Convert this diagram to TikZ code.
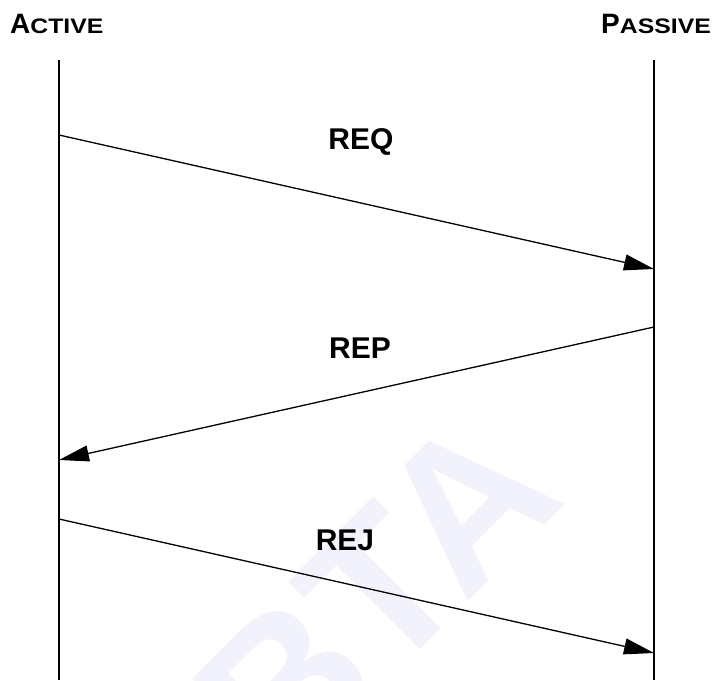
\documentclass[tikz,border=0pt]{standalone}
\usepackage{fontspec}
\setmainfont{Liberation Sans}
\usetikzlibrary{arrows.meta}

\definecolor{wmark}{RGB}{242,242,253}
\newcommand{\headsc}[2]{{\fontsize{28}{28}\selectfont #1}\scalebox{1.18}[1]{\fontsize{21}{21}\selectfont #2}}

\tikzset{
  lifeline/.style={line width=2pt},
  msg/.style={line width=1.3pt, -{Triangle[length=30pt,width=16pt]}},
  msglabel/.style={font=\bfseries\fontsize{30}{30}\selectfont, inner sep=0pt},
  header/.style={font=\bfseries, inner sep=0pt}
}

\begin{document}
\begin{tikzpicture}[x=1pt,y=-1pt]
    \useasboundingbox (0,0) rectangle (712,680);
    % watermark
    \node[wmark, rotate=45, inner sep=0pt, font=\bfseries\fontsize{205}{205}\selectfont] (wm) at (376,595) {BTA};
    % headers
    \node[header, anchor=base west] (active) at (10,33) {\headsc{A}{CTIVE}};
    \node[header, anchor=base east] (passive) at (711,33) {\headsc{P}{ASSIVE}};
    % lifelines
    \coordinate (act top) at (59,60);
    \coordinate (act bot) at (59,680);
    \coordinate (pas top) at (654,60);
    \coordinate (pas bot) at (654,680);
    \draw[lifeline] (act top) -- (act bot);
    \draw[lifeline] (pas top) -- (pas bot);
    % messages
    \coordinate (req from) at (59,135);
    \coordinate (req to) at (654,269);
    \coordinate (rep from) at (654,327);
    \coordinate (rep to) at (59,460);
    \coordinate (rej from) at (59,519);
    \coordinate (rej to) at (654,653);
    \draw[msg] (req from) -- (req to);
    \draw[msg] (rep from) -- (rep to);
    \draw[msg] (rej from) -- (rej to);
    \node[msglabel] (req) at (361,142) {REQ};
    \node[msglabel] (rep) at (360,348) {REP};
    \node[msglabel] (rej) at (345,540) {REJ};
\end{tikzpicture}
\end{document}
